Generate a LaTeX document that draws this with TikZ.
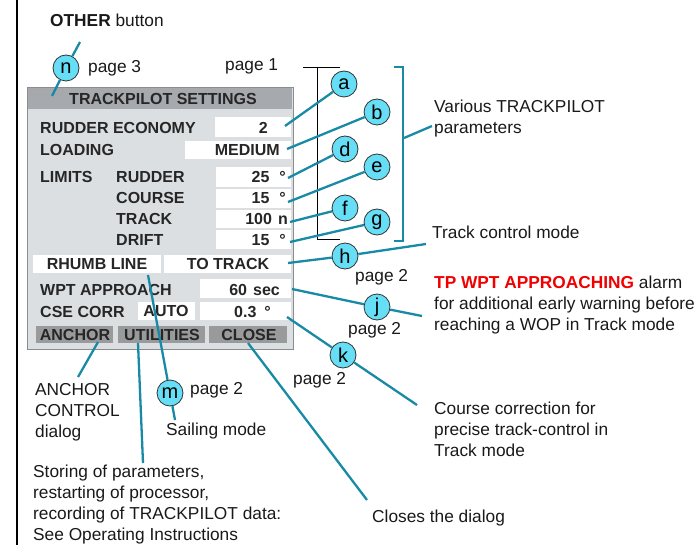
\documentclass[tikz,border=0pt]{standalone}
\usepackage{fontspec}
\setmainfont{Liberation Sans}
\definecolor{callout}{RGB}{24,138,166}
\definecolor{bubblefill}{RGB}{102,222,246}
\definecolor{panelgray}{RGB}{220,223,226}
\definecolor{titlegray}{RGB}{166,169,173}
\definecolor{buttongray}{RGB}{152,154,156}
\definecolor{alarmred}{RGB}{240,0,0}
\begin{document}
\begin{tikzpicture}[x=1pt,y=-1pt]
\tikzset{bubble/.style={draw=black!80, fill=bubblefill, circle, line width=0.8pt, minimum size=26pt, inner sep=0pt, font=\fontsize{20}{20}\selectfont},
  lead/.style={draw=callout, line width=2.3pt},
  note/.style={anchor=west, inner sep=0pt, align=left, text=black!90, font=\fontsize{17.3}{21}\selectfont},
  lbl/.style={anchor=west, inner sep=0pt, text=black!85, font=\bfseries\fontsize{16}{16}\selectfont}}
\useasboundingbox (0,0) rectangle (700,545);
\draw[line width=1.2pt] (17,0) -- (17,545);
\filldraw[fill=panelgray, draw=black!45] (27,87) rectangle (293,349);
\fill[titlegray] (28,88) rectangle (292,109);
\draw[black!35] (30,89) rectangle (62,94);
\fill[white] (215,117) rectangle (291,137);
\fill[white] (185,141) rectangle (291,159);
\foreach \t/\b in {167/187, 189/208, 210/228, 230/249}
  \fill[white] (216,\t) rectangle (291,\b);
\fill[white] (33,255) rectangle (161,273);
\fill[white] (164,255) rectangle (291,273);
\fill[white] (200,279) rectangle (291,298);
\fill[white] (138,302) rectangle (195,320);
\fill[white] (200,302) rectangle (291,320);
\fill[buttongray] (36,326) rectangle (113,343);
\fill[buttongray] (118,326) rectangle (205,343);
\fill[buttongray] (209,326) rectangle (287,343);
\node[lbl, anchor=center] (title) at (163,99) {TRACKPILOT SETTINGS};
\node[lbl] (eco) at (40,128) {RUDDER ECONOMY};
\node[lbl] (load) at (40,150) {LOADING};
\node[lbl] (lim) at (40,177) {LIMITS};
\node[lbl] (rud) at (116,177) {RUDDER};
\node[lbl] (crs) at (116,198) {COURSE};
\node[lbl] (trk) at (116,219) {TRACK};
\node[lbl] (drf) at (116,240) {DRIFT};
\node[lbl] (wpt) at (40,290) {WPT APPROACH};
\node[lbl] (csec) at (40,312) {CSE CORR};
\node[lbl, anchor=east] (veco) at (268,128) {2};
\node[lbl, anchor=east] (vload) at (280,150) {MEDIUM};
\node[lbl, anchor=east] (vrud) at (286,177) {25\hspace{10pt}°};
\node[lbl, anchor=east] (vcrs) at (286,198) {15\hspace{10pt}°};
\node[lbl, anchor=east] (vtrk) at (288,219) {100\hspace{6pt}n};
\node[lbl, anchor=east] (vdrf) at (286,240) {15\hspace{10pt}°};
\node[lbl, anchor=east] (vwpt) at (280,290) {60\hspace{6pt}sec};
\node[lbl, anchor=east] (vcse) at (271,312) {0.3\hspace{8pt}°};
\node[lbl, anchor=center] (rhumb) at (97,264) {RHUMB LINE};
\node[lbl, anchor=center] (totrack) at (228,264) {TO TRACK};
\node[lbl, anchor=center] (auto) at (166,311) {AUTO};
\node[lbl, anchor=center] (banchor) at (75,335) {ANCHOR};
\node[lbl, anchor=center] (butil) at (162,335) {UTILITIES};
\node[lbl, anchor=center] (bclose) at (249,335) {CLOSE};
\node[note] (other) at (50,20) {\textbf{OTHER} button};
\node[note] (pg3) at (88,68) {page 3};
\node[note] (pg1) at (225,66) {page 1};
\node[note] (various) at (434,119) {Various TRACKPILOT\\parameters};
\node[note] (trackmode) at (432,232) {Track control mode};
\node[note] (pgh) at (355,277) {page 2};
\node[note] (alarm) at (434,305) {\textcolor{alarmred}{\textbf{TP WPT APPROACHING}} alarm\\for additional early warning before\\reaching a WOP in Track mode};
\node[note] (pgj) at (348,330) {page 2};
\node[note] (pgk) at (293,380) {page 2};
\node[note] (course) at (434,429) {Course correction for\\precise track-control in\\Track mode};
\node[note] (closes) at (372,518) {Closes the dialog};
\node[note] (anchordlg) at (35,412) {ANCHOR\\CONTROL\\dialog};
\node[note] (pgm) at (190,390) {page 2};
\node[note] (sailing) at (166,431) {Sailing mode};
\node[note] (storing) at (33,505) {Storing of parameters,\\restarting of processor,\\recording of TRACKPILOT data:\\See Operating Instructions};
\draw[line width=0.9pt] (303,67) -- (340,67) (317,67) -- (317,239) -- (340,239);
\draw[lead] (394,67) -- (403,67) -- (403,241) -- (394,241);
\coordinate (brk) at (404,138);
\coordinate (tbrk) at (432,126);
\draw[lead] (brk) -- (tbrk);
\foreach \n/\x/\y in {a/344/84, b/377/112, d/345/149, e/377/167, f/345/208, g/377/222, h/345/256, j/377/307, k/343/355, m/170/393, n/66/68}
  \node[bubble] (\n) at (\x,\y) {\n};
\coordinate (sa) at (285,126);
\coordinate (sb) at (287,149);
\coordinate (sd) at (288,178);
\coordinate (se) at (288,202);
\coordinate (sf) at (290,222);
\coordinate (sg) at (290,242);
\foreach \n in {a,b,d,e,f,g}
  \draw[lead] (s\n) -- (\n);
\coordinate (sh) at (288,263);
\coordinate (th) at (426,244);
\coordinate (sj) at (292,289);
\coordinate (tj) at (422,316);
\coordinate (sk) at (287,317);
\coordinate (tk) at (417,405);
\coordinate (sm) at (148,275);
\coordinate (tm) at (175,420);
\coordinate (sn) at (52,96);
\coordinate (tn) at (80,42);
\foreach \n in {h,j,k,m,n}
  \draw[lead] (s\n) -- (\n) -- (t\n);
\coordinate (san) at (98,342);
\coordinate (tan) at (78,377);
\coordinate (su) at (138,343);
\coordinate (tu) at (143,463);
\coordinate (sc) at (248,343);
\coordinate (tc) at (367,500);
\draw[lead] (san) -- (tan);
\draw[lead] (su) -- (tu);
\draw[lead] (sc) -- (tc);
\end{tikzpicture}
\end{document}
